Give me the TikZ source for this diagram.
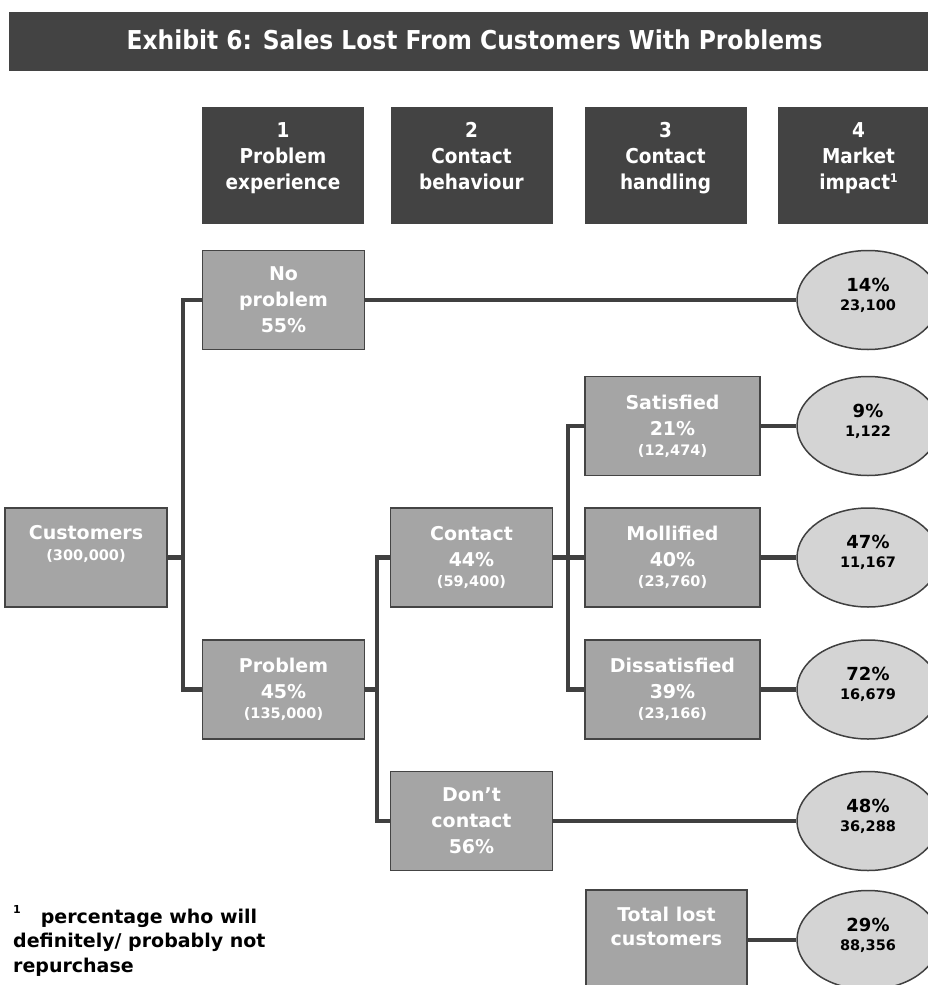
\documentclass[tikz,border=0pt]{standalone}
\usepackage{fontspec}
\setmainfont{DejaVu Sans}
\newfontfamily\condfont{DejaVu Sans Condensed}
\usetikzlibrary{shapes.geometric}
\definecolor{darkbg}{HTML}{434343}
\definecolor{boxfill}{HTML}{A5A5A5}
\definecolor{boxline}{HTML}{444444}
\definecolor{ellfill}{HTML}{D4D4D4}
\definecolor{linec}{HTML}{404040}
\pgfdeclarelayer{bg}
\pgfsetlayers{bg,main}
\begin{document}
\begin{tikzpicture}[x=1pt,y=-1pt,
  hdrbox/.style={fill=darkbg, minimum width=162pt, minimum height=117pt, inner sep=0pt},
  hdrtxt/.style={anchor=north, align=center, text=white, inner sep=0pt,
    font=\condfont\bfseries\fontsize{20.5}{26}\selectfont},
  gbox/.style={draw=boxline, line width=1.5pt, fill=boxfill, minimum width=162pt,
    minimum height=99pt, inner sep=0pt, text=white, align=center,
    font=\bfseries\fontsize{19}{26}\selectfont},
  wbox/.style={gbox, minimum width=175pt},
  boxtxt/.style={anchor=north, align=center, text=white, inner sep=0pt,
    font=\bfseries\fontsize{19}{26}\selectfont},
  oval/.style={ellipse, draw=linec, line width=1.5pt, fill=ellfill, minimum width=142pt,
    minimum height=99pt, inner sep=0pt, align=center,
    font=\bfseries\fontsize{18}{20}\selectfont},
  conn/.style={draw=linec, line width=4.3pt, line join=miter}
]
\newcommand{\smalltxt}[1]{{\fontsize{14.5}{18}\selectfont #1}}
\newcommand{\ovaltxt}[2]{#1\\[-1pt]\smalltxt{#2}\rule[-12pt]{0pt}{12pt}}
\useasboundingbox (0,0) rectangle (928,985);

% title
\node (titlebar) [fill=darkbg, minimum width=935pt, minimum height=59pt, inner sep=0pt, anchor=north west] at (9,12) {};
\node (title) [text=white, inner sep=0pt, font=\condfont\bfseries\fontsize{26}{30}\selectfont] at (474.5,39.5) {Exhibit 6: Sales Lost From Customers With Problems};

% headers
\node (h1) [hdrbox] at (283,165.5) {};
\node (h2) [hdrbox] at (471.5,165.5) {};
\node (h3) [hdrbox] at (665.5,165.5) {};
\node (h4) [hdrbox] at (858.5,165.5) {};
\node (h1t) [hdrtxt] at (283,122) {1\\Problem\\experience};
\node (h2t) [hdrtxt] at (471.5,122) {2\\Contact\\behaviour};
\node (h3t) [hdrtxt] at (665.5,122) {3\\Contact\\handling};
\node (h4t) [hdrtxt] at (858.5,122) {4\\Market\\impact\raisebox{7pt}{\fontsize{12}{12}\selectfont 1}};

% boxes
\node (cust) [gbox] at (86,557.5) {};
\node (custt) [boxtxt] at (86,525) {Customers\\[-5pt]\smalltxt{(300,000)}};
\node (np) [gbox] at (283.5,300) {No\\problem\\55\%};
\node (prob) [gbox] at (283.5,689.5) {Problem\\45\%\\[-6pt]\smalltxt{(135,000)}};
\node (cont) [gbox] at (471.5,557.5) {Contact\\44\%\\[-6pt]\smalltxt{(59,400)}};
\node (dont) [gbox] at (471.5,821) {Don’t\\contact\\56\%};
\node (sat) [wbox] at (672.5,426) {Satisfied\\21\%\\[-6pt]\smalltxt{(12,474)}};
\node (mol) [wbox] at (672.5,557.5) {Mollified\\40\%\\[-6pt]\smalltxt{(23,760)}};
\node (dis) [wbox] at (672.5,689.5) {Dissatisfied\\39\%\\[-6pt]\smalltxt{(23,166)}};
\node (tot) [gbox, minimum width=161pt, minimum height=100pt] at (666.5,940) {};
\node (tott) [boxtxt] at (666.5,907) {Total lost\\[-2pt]customers};

% ovals
\node (e1) [oval] at (868,300) {\ovaltxt{14\%}{23,100}};
\node (e2) [oval] at (868,426) {\ovaltxt{9\%}{1,122}};
\node (e3) [oval] at (868,557.5) {\ovaltxt{47\%}{11,167}};
\node (e4) [oval] at (868,689.5) {\ovaltxt{72\%}{16,679}};
\node (e5) [oval] at (868,821) {\ovaltxt{48\%}{36,288}};
\node (e6) [oval] at (868,940) {\ovaltxt{29\%}{88,356}};

% footnote
\node (fn) [anchor=north west, align=left, inner sep=0pt, font=\bfseries\fontsize{19}{24.5}\selectfont] at (13,905)
  {\raisebox{10pt}{\fontsize{11}{11}\selectfont 1}\hspace{20pt}percentage who will\\definitely/ probably not\\repurchase};

% junctions
\coordinate (j1) at (183,557.5);
\coordinate (j2) at (377,689.5);
\coordinate (j3) at (568,557.5);

\begin{pgfonlayer}{bg}
\draw[conn] (np.west) -| (j1) |- (prob.west);
\draw[conn] (cust.east) -- (j1);
\draw[conn] (cont.west) -| (j2) |- (dont.west);
\draw[conn] (prob.east) -- (j2);
\draw[conn] (sat.west) -| (j3) |- (dis.west);
\draw[conn] (cont.east) -- (mol.west);
\draw[conn] (np.east) -- (e1.west);
\draw[conn] (sat.east) -- (e2.west);
\draw[conn] (mol.east) -- (e3.west);
\draw[conn] (dis.east) -- (e4.west);
\draw[conn] (dont.east) -- (e5.west);
\draw[conn] (tot.east) -- (e6.west);
\end{pgfonlayer}
\end{tikzpicture}
\end{document}
